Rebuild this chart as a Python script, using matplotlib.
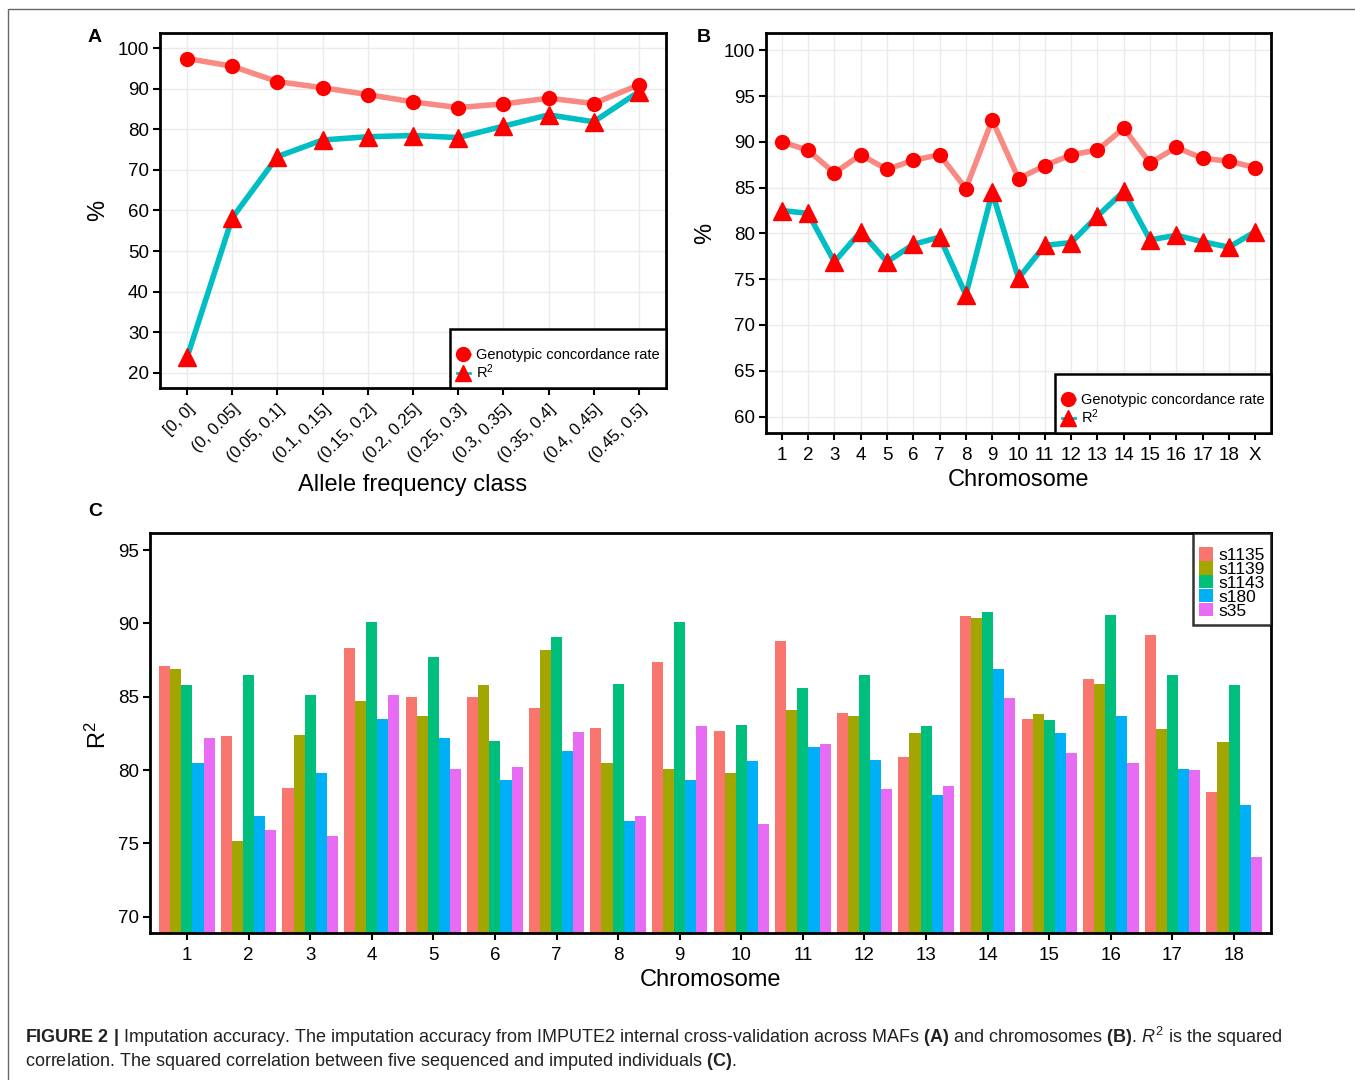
import numpy as np
import matplotlib
matplotlib.use('Agg')
import matplotlib.pyplot as plt
import matplotlib.lines as mlines
import matplotlib.patches as mpatches

plt.rcParams['font.family'] = ['Liberation Sans', 'DejaVu Sans']
plt.rcParams['mathtext.fontset'] = 'custom'
plt.rcParams['mathtext.rm'] = 'Liberation Sans'
plt.rcParams['mathtext.it'] = 'Liberation Sans:italic'
plt.rcParams['mathtext.bf'] = 'Liberation Sans:bold'

# ---- data ----

maf_classes = ['[0, 0]', '(0, 0.05]', '(0.05, 0.1]', '(0.1, 0.15]', '(0.15, 0.2]',
               '(0.2, 0.25]', '(0.25, 0.3]', '(0.3, 0.35]', '(0.35, 0.4]',
               '(0.4, 0.45]', '(0.45, 0.5]']
maf_concordance = [97.5, 95.6, 91.8, 90.3, 88.6, 86.8, 85.4, 86.3, 87.7, 86.4, 91.0]
maf_r2 = [23.8, 58.2, 73.3, 77.4, 78.2, 78.5, 78.0, 80.8, 83.6, 81.9, 89.3]

chrom_labels = ['1', '2', '3', '4', '5', '6', '7', '8', '9', '10', '11', '12',
                '13', '14', '15', '16', '17', '18', 'X']
chrom_concordance = [90.0, 89.1, 86.6, 88.6, 87.0, 88.0, 88.6, 84.9, 92.4, 86.0,
                     87.4, 88.6, 89.1, 91.5, 87.7, 89.4, 88.2, 87.9, 87.2]
chrom_r2 = [82.5, 82.2, 76.9, 80.2, 76.9, 78.8, 79.6, 73.3, 84.5, 75.1,
            78.7, 79.0, 81.9, 84.6, 79.3, 79.8, 79.1, 78.5, 80.2]

samples = ['s1135', 's1139', 's1143', 's180', 's35']
sample_chroms = [str(i) for i in range(1, 19)]
s1135 = [87.1, 82.3, 78.8, 88.3, 85.0, 85.0, 84.2, 82.9, 87.4, 82.7,
         88.8, 83.9, 80.9, 90.5, 83.5, 86.2, 89.2, 78.5]
s1139 = [86.9, 75.2, 82.4, 84.7, 83.7, 85.8, 88.2, 80.5, 80.1, 79.8,
         84.1, 83.7, 82.5, 90.4, 83.8, 85.9, 82.8, 81.9]
s1143 = [85.8, 86.5, 85.1, 90.1, 87.7, 82.0, 89.1, 85.9, 90.1, 83.1,
         85.6, 86.5, 83.0, 90.8, 83.4, 90.6, 86.5, 85.8]
s180 = [80.5, 76.9, 79.8, 83.5, 82.2, 79.3, 81.3, 76.5, 79.3, 80.6,
        81.6, 80.7, 78.3, 86.9, 82.5, 83.7, 80.1, 77.6]
s35 = [82.2, 75.9, 75.5, 85.1, 80.1, 80.2, 82.6, 76.9, 83.0, 76.3,
       81.8, 78.7, 78.9, 84.9, 81.2, 80.5, 80.0, 74.1]
sample_values = [s1135, s1139, s1143, s180, s35]

# ---- styling ----

conc_color = '#F8766D'
r2_color = '#00BFC4'
marker_color = '#FF0000'
sample_colors = ['#F8766D', '#A3A500', '#00BF7D', '#00B0F6', '#E76BF3']

W, H = 1355, 1080
fig = plt.figure(figsize=(W / 100, H / 100), dpi=100)


def px_axes(left, top, right, bottom):
    return fig.add_axes([left / W, 1 - bottom / H, (right - left) / W, (bottom - top) / H])


def frame_style(ax, grid):
    for sp in ax.spines.values():
        sp.set_linewidth(2.0)
        sp.set_color('black')
    ax.tick_params(direction='out', length=5, width=1.5, labelsize=13.5,
                   colors='black', pad=3)
    ax.tick_params(axis='x', pad=5)
    ax.tick_params(top=False, right=False)
    if grid:
        ax.grid(True, color='#EBEBEB', linewidth=1.0, zorder=0)
        ax.set_axisbelow(True)


def line_panel(ax, labels, conc, r2):
    x = np.arange(len(labels))
    ax.plot(x, conc, color=conc_color, lw=4, alpha=0.85, zorder=2, solid_capstyle='round')
    ax.plot(x, r2, color=r2_color, lw=4, zorder=2, solid_capstyle='round')
    ax.plot(x, conc, ls='none', marker='o', ms=10, color=marker_color, zorder=3)
    ax.plot(x, r2, ls='none', marker='^', ms=12.5, color=marker_color, zorder=4)
    ax.set_xlim(-0.6, len(labels) - 0.4)
    ax.set_xticks(x)
    handles = [
        mlines.Line2D([], [], color=conc_color, lw=2, marker='o', ms=10,
                      mfc=marker_color, mec=marker_color),
        mlines.Line2D([], [], color=r2_color, lw=2, marker='^', ms=11,
                      mfc=marker_color, mec=marker_color),
    ]
    leg = ax.legend(handles, ['Genotypic concordance rate', 'R$^2$'],
                    loc='lower right', borderaxespad=0, fancybox=False,
                    frameon=True, fontsize=10.5, handlelength=0.9,
                    handletextpad=0.4, labelspacing=0.05, borderpad=0.45,
                    title=' ', title_fontsize=9)
    leg.get_frame().set_edgecolor('black')
    leg.get_frame().set_linewidth(1.8)
    leg.get_frame().set_alpha(1)


# ---- panel A: accuracy by allele frequency class ----

axA = px_axes(160, 33, 666, 388)
frame_style(axA, True)
line_panel(axA, maf_classes, maf_concordance, maf_r2)
axA.set_ylim(16.2, 103.8)
axA.set_yticks(np.arange(20, 101, 10))
axA.set_xticklabels(maf_classes, rotation=45, ha='right', rotation_mode='anchor',
                    fontsize=12)
axA.set_xlabel('Allele frequency class', fontsize=17, labelpad=6)

# ---- panel B: accuracy by chromosome ----

axB = px_axes(766, 33, 1271, 433)
frame_style(axB, True)
line_panel(axB, chrom_labels, chrom_concordance, chrom_r2)
axB.set_ylim(58.2, 101.9)
axB.set_yticks(np.arange(60, 101, 5))
axB.set_xticklabels(chrom_labels)
axB.set_xlabel('Chromosome', fontsize=17, labelpad=4)

# ---- panel C: per-sample squared correlation ----

axC = px_axes(150, 533, 1271, 933)
frame_style(axC, False)
xc = np.arange(len(sample_chroms))
bw = 0.18
for k, (name, vals) in enumerate(zip(samples, sample_values)):
    axC.bar(xc + (k - 2) * bw, vals, width=bw, color=sample_colors[k],
            label=name, zorder=2)
axC.set_xlim(-0.6, len(sample_chroms) - 0.4)
axC.set_ylim(68.9, 96.16)
axC.set_yticks(np.arange(70, 96, 5))
axC.set_xticks(xc)
axC.set_xticklabels(sample_chroms)
axC.set_xlabel('Chromosome', fontsize=17, labelpad=4)
legC = axC.legend(loc='upper right', borderaxespad=0, fancybox=False, frameon=True,
                  fontsize=12.5, handlelength=0.8, handleheight=0.8,
                  handletextpad=0.3, labelspacing=-0.1, borderpad=0.35,
                  title=' ', title_fontsize=7)
legC.get_frame().set_edgecolor('black')
legC.get_frame().set_linewidth(1.8)

# ---- shared labels ----

fig.text(95 / W, 1 - 38 / H, 'A', fontsize=14, fontweight='bold', ha='center', va='center')
fig.text(704 / W, 1 - 38 / H, 'B', fontsize=14, fontweight='bold', ha='center', va='center')
fig.text(95 / W, 1 - 512 / H, 'C', fontsize=14, fontweight='bold', ha='center', va='center')
fig.text(98 / W, 1 - 210 / H, '%', fontsize=17, rotation=90, ha='center', va='center')
fig.text(705 / W, 1 - 233 / H, '%', fontsize=17, rotation=90, ha='center', va='center')
fig.text(98 / W, 1 - 735 / H, 'R$^2$', fontsize=17, rotation=90, ha='center', va='center')

# ---- caption ----

fig.text(25 / W, 1 - 1037 / H,
         r'$\mathbf{FIGURE\ 2\ |}$ Imputation accuracy. The imputation accuracy from IMPUTE2 '
         r'internal cross-validation across MAFs $\mathbf{(A)}$ and chromosomes $\mathbf{(B)}$. '
         r'$R^2$ is the squared',
         fontsize=13, ha='left', va='center', color='#222222')
fig.text(25 / W, 1 - 1061 / H,
         r'correlation. The squared correlation between five sequenced and imputed individuals '
         r'$\mathbf{(C)}$.',
         fontsize=13, ha='left', va='center', color='#222222')

# outer figure frame
fig.add_artist(mpatches.Rectangle((8 / W, -0.05), 1.1, 1 - 9 / H + 0.05,
                                  transform=fig.transFigure, fill=False,
                                  edgecolor='#666666', linewidth=1.0))

fig.savefig('out.png', dpi=100)
